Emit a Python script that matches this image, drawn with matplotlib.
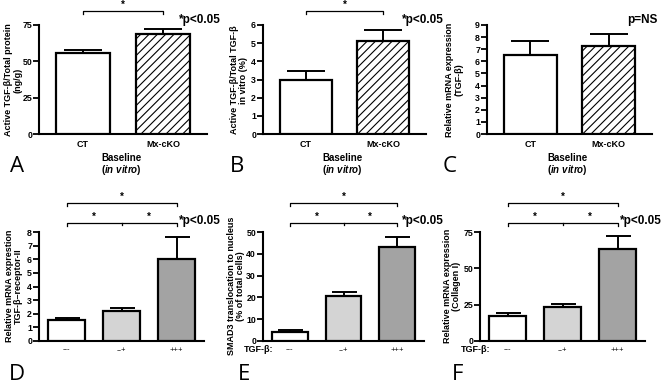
import matplotlib
matplotlib.use('Agg')
import matplotlib.pyplot as plt
import numpy as np

plt.rcParams['font.family'] = ['Liberation Sans', 'DejaVu Sans']
plt.rcParams['mathtext.fontset'] = 'custom'
plt.rcParams['mathtext.it'] = 'Liberation Sans:italic:bold'
plt.rcParams['mathtext.rm'] = 'Liberation Sans:bold'
plt.rcParams['hatch.linewidth'] = 0.8

# ---------------- data ----------------
top_groups = ['CT', 'Mx-cKO']
A_vals = [55.5, 68.5]
A_err = [2.0, 4.0]
A_ticks = [0, 25, 50, 75]
B_vals = [3.0, 5.1]
B_err = [0.45, 0.65]
B_ticks = [0, 1, 2, 3, 4, 5, 6]
C_vals = [6.5, 7.3]
C_err = [1.2, 0.95]
C_ticks = [0, 1, 2, 3, 4, 5, 6, 7, 8, 9]

bot_groups = ['---', '--+', '+++']
D_vals = [1.55, 2.2, 6.05]
D_err = [0.15, 0.25, 1.6]
D_ticks = [0, 1, 2, 3, 4, 5, 6, 7, 8]
E_vals = [4.3, 20.5, 43.0]
E_err = [0.7, 2.2, 4.5]
E_ticks = [0, 10, 20, 30, 40, 50]
F_vals = [17.5, 23.5, 63.5]
F_err = [1.5, 2.0, 9.0]
F_ticks = [0, 25, 50, 75]

W, H = 661, 385
fig = plt.figure(figsize=(W / 100, H / 100), dpi=100)


def fx(x):
    return x / W


def fy(y):
    return 1 - y / H


def make_ax(x0, x1, ytop, yzero):
    return fig.add_axes([fx(x0), fy(yzero), (x1 - x0) / W, (yzero - ytop) / H])


def style(ax, ticks, xlim):
    ax.set_ylim(ticks[0], ticks[-1])
    ax.set_xlim(*xlim)
    ax.set_yticks(ticks)
    ax.set_yticklabels([str(t) for t in ticks], fontweight='bold', fontsize=6.3)
    for s in ['top', 'right']:
        ax.spines[s].set_visible(False)
    for s in ['left', 'bottom']:
        ax.spines[s].set_linewidth(1.5)
    ax.tick_params(axis='y', direction='out', length=4, width=1.3, pad=1)
    ax.tick_params(axis='x', length=0, pad=4)


def draw_bars(ax, vals, errs, colors, hatches, capsize):
    x = np.arange(len(vals))
    for i in range(len(vals)):
        ax.bar(x[i], vals[i], width=0.67, color=colors[i], edgecolor='black',
               linewidth=1.6, hatch=hatches[i], zorder=3)
    ax.errorbar(x, vals, yerr=[np.zeros(len(errs)), errs], fmt='none',
                ecolor='black', elinewidth=1.4, capsize=capsize, capthick=1.4, zorder=2)


def bracket(ax, x0, x1, y, drop=0.03, mid=None, lw=0.9):
    tr = ax.get_xaxis_transform()
    ax.plot([x0, x0, x1, x1], [y - drop, y, y, y - drop], color='black', lw=lw,
            transform=tr, clip_on=False)
    if mid is not None:
        ax.plot([mid, mid], [y, y - drop * 0.7], color='black', lw=lw,
                transform=tr, clip_on=False)


def star(ax, x, y):
    ax.text(x, y, '*', transform=ax.get_xaxis_transform(), ha='center', va='bottom',
            fontsize=7, fontweight='bold')


# ---------------- top row ----------------
top_specs = [
    (39, 207, A_vals, A_err, A_ticks, 'Active TGF-β/Total protein\n(ng/g)', 13, 'A', 17, '*p<0.05', 200),
    (263, 426, B_vals, B_err, B_ticks, 'Active TGF-β/Total TGF-β\nin vitro (%)', 239, 'B', 237, '*p<0.05', 423),
    (487, 652, C_vals, C_err, C_ticks, 'Relative mRNA expression\n(TGF-β)', 454, 'C', 450, 'p=NS', 642),
]
for (x0, x1, vals, errs, ticks, ylab, ylx, letter, lx, ptxt, px) in top_specs:
    ax = make_ax(x0, x1, 25, 134)
    draw_bars(ax, vals, errs, ['white', 'white'], ['', '////'], capsize=14)
    style(ax, ticks, (-0.55, 1.55))
    ax.set_xticks(range(len(top_groups)))
    ax.set_xticklabels(top_groups, fontsize=6.5, fontweight='bold')
    fig.text(fx(ylx), fy(80), ylab, rotation=90, ha='center', va='center',
             fontsize=6.5, fontweight='bold', linespacing=1.1)
    xc = (x0 + x1) / 2 - 2
    fig.text(fx(xc), fy(158), 'Baseline', ha='center', va='center', fontsize=7, fontweight='bold')
    fig.text(fx(xc), fy(170), r'($\mathit{in\ vitro}$)', ha='center', va='center',
             fontsize=7, fontweight='bold')
    fig.text(fx(lx), fy(167), letter, ha='center', va='center', fontsize=16,
             family=['Open Sans', 'DejaVu Sans'])
    fig.text(fx(px), fy(20), ptxt, ha='center', va='center', fontsize=8.5, fontweight='bold')
    if ptxt != 'p=NS':
        bracket(ax, 0, 1, 1.128, drop=0.028)
        star(ax, 0.5, 1.14)

# ---------------- bottom row ----------------
bot_specs = [
    (39, 204, D_vals, D_err, D_ticks, 'Relative mRNA exprestion\nTGF-β–receptor-II', 14, 'D', 17, 200, False),
    (263, 424, E_vals, E_err, E_ticks, 'SMAD3 translocation to nucleus\n(% of total cells)', 236, 'E', 244, 423, True),
    (480, 645, F_vals, F_err, F_ticks, 'Relative mRNA expression\n(Collagen I)', 452, 'F', 458, 641, True),
]
for (x0, x1, vals, errs, ticks, ylab, ylx, letter, lx, px, tgf) in bot_specs:
    ax = make_ax(x0, x1, 232, 341)
    draw_bars(ax, vals, errs, ['white', '#d4d4d4', '#a3a3a3'], ['', '', ''], capsize=9)
    style(ax, ticks, (-0.5, 2.5))
    ax.set_xticks(range(len(bot_groups)))
    ax.set_xticklabels(bot_groups, fontsize=5.5)
    fig.text(fx(ylx), fy(286), ylab, rotation=90, ha='center', va='center',
             fontsize=6.5, fontweight='bold', linespacing=1.1)
    fig.text(fx(lx), fy(374), letter, ha='center', va='center', fontsize=16,
             family=['Open Sans', 'DejaVu Sans'])
    fig.text(fx(px), fy(221), '*p<0.05', ha='center', va='center', fontsize=8.5, fontweight='bold')
    if tgf:
        fig.text(fx(x0 - 4), fy(350), 'TGF-β:', ha='center', va='center', fontsize=6.5,
                 fontweight='bold')
    bracket(ax, 0, 2, 1.083, drop=0.028, mid=1)
    star(ax, 0.5, 1.09)
    star(ax, 1.5, 1.09)
    bracket(ax, 0, 2, 1.266, drop=0.028)
    star(ax, 1.0, 1.275)

fig.savefig('out.png', dpi=100)
